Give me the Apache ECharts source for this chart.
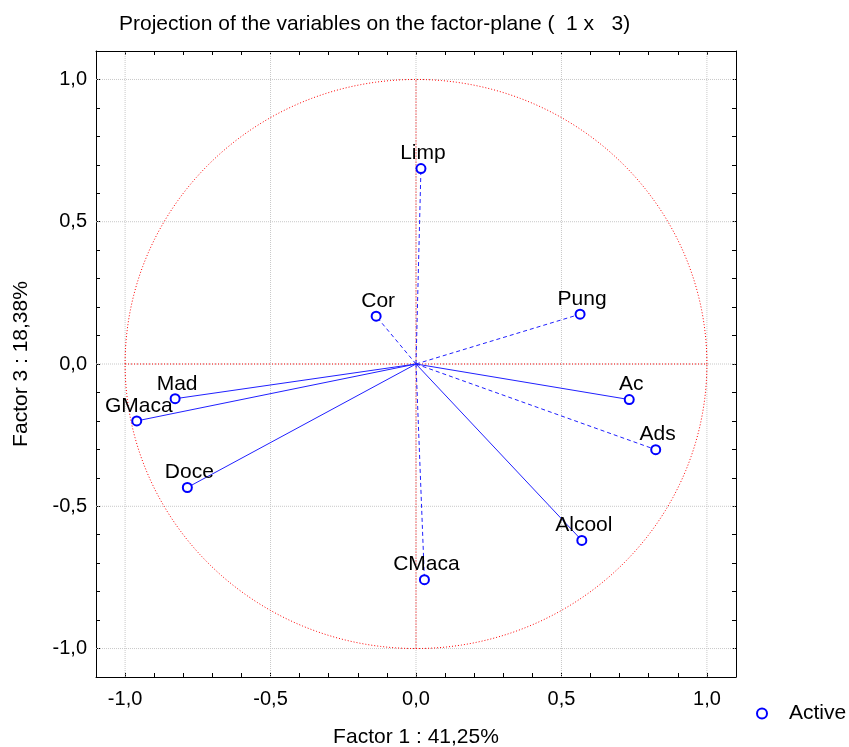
<!DOCTYPE html>
<html>
<head>
<meta charset="utf-8">
<script src="https://cdn.jsdelivr.net/npm/echarts@6/dist/echarts.min.js"></script>
<style>html,body{margin:0;padding:0;background:#fff;overflow:hidden}#c{width:849px;height:747px}</style>
</head>
<body>
<div id="c"></div>
<script>
const variables = ['Limp','Cor','Pung','Ac','Ads','Alcool','CMaca','Doce','GMaca','Mad'];
const factor1 = [0.017,-0.137,0.564,0.733,0.824,0.570,0.029,-0.786,-0.960,-0.828];
const factor3 = [0.687,0.168,0.175,-0.125,-0.301,-0.620,-0.758,-0.434,-0.200,-0.122];
const dashedVars = ['Limp','Cor','Pung','Ads','CMaca'];
const majorTicks = [-1.0,-0.5,0.0,0.5,1.0];

const FONT = 'Liberation Sans, Arial, sans-serif';
const BLUE = '#0000ff';
const RED = '#ff0000';

function fmt(v){
  const r = Math.round(v*10)/10;
  if (Math.abs(r) <= 1.0001 && Math.abs(r*2 - Math.round(r*2)) < 1e-9) return (Math.round(r*2)/2).toFixed(1).replace('-0.0','0.0').replace('.',',');
  return '';
}

const axisCommon = {
  type:'value', min:-1.1, max:1.1, interval:0.1,
  axisLine:{show:true,onZero:false,lineStyle:{color:'#000',width:1}},
  axisTick:{show:true,inside:true,length:4,lineStyle:{color:'#000'}},
  splitLine:{show:false}
};

const chart = echarts.init(document.getElementById('c'), null, {renderer:'canvas'});

const series = [];
series.push({
  type:'custom', name:'ref', coordinateSystem:'cartesian2d', silent:true, z:1,
  data:[[0,0]],
  renderItem:function(params, api){
    const children = [];
    majorTicks.forEach(function(t){
      const a = api.coord([t,-1.1]), b = api.coord([t,1.1]);
      children.push({type:'line', shape:{x1:a[0],y1:a[1],x2:b[0],y2:b[1]}, style:{stroke:'#c8c8c8',lineWidth:1,lineDash:[1,1]}});
      const c = api.coord([-1.1,t]), d = api.coord([1.1,t]);
      children.push({type:'line', shape:{x1:c[0],y1:c[1],x2:d[0],y2:d[1]}, style:{stroke:'#c8c8c8',lineWidth:1,lineDash:[1,1]}});
    });
    const h1 = api.coord([-1,0]), h2 = api.coord([1,0]);
    children.push({type:'line', shape:{x1:h1[0],y1:h1[1],x2:h2[0],y2:h2[1]}, style:{stroke:RED,lineWidth:1,lineDash:[1,2]}});
    const v1 = api.coord([0,-1]), v2 = api.coord([0,1]);
    children.push({type:'line', shape:{x1:v1[0],y1:v1[1],x2:v2[0],y2:v2[1]}, style:{stroke:RED,lineWidth:1,lineDash:[1,2]}});
    const pts = [];
    for (let k=0;k<=360;k++){ const a=k*Math.PI/180; pts.push(api.coord([Math.cos(a),Math.sin(a)])); }
    children.push({type:'polyline', shape:{points:pts}, style:{stroke:RED,fill:null,lineWidth:1,lineDash:[1,2]}});
    return {type:'group', children:children};
  }
});
variables.forEach(function(n,i){
  series.push({
    type:'line', name:'vec_'+n, z:2, symbol:'none', silent:true,
    data:[[0,0],[factor1[i],factor3[i]]],
    lineStyle:{color:'#2020ff',width:1,type: dashedVars.indexOf(n)>=0 ? [4,3] : 'solid'}
  });
});
series.push({
  type:'scatter', name:'Active', z:3,
  symbol:'circle', symbolSize:9,
  itemStyle:{color:'#ffffff',borderColor:BLUE,borderWidth:2,opacity:1},
  label:{show:true,position:'top',distance:1,offset:[2,2],formatter:function(p){return p.name;},
         color:'#000',fontFamily:FONT,fontSize:21},
  data: variables.map(function(n,i){return {name:n,value:[factor1[i],factor3[i]]};})
});

chart.setOption({
  animation:false,
  backgroundColor:'#ffffff',
  title:{text:'Projection of the variables on the factor-plane (  1 x   3)', left:114, top:9,
         textStyle:{fontFamily:FONT,fontSize:21,fontWeight:'normal',color:'#000'}},
  legend:{data:[{name:'Active',icon:'circle',itemStyle:{color:'#ffffff',borderColor:BLUE,borderWidth:2}}],
          left:751, top:698, itemWidth:10, itemHeight:10,
          textStyle:{fontFamily:FONT,fontSize:21,color:'#000',padding:[0,0,0,17]}, selectedMode:false},
  grid:{left:96, top:51, width:640, height:626, containLabel:false, outerBoundsMode:'none'},
  xAxis:[
    Object.assign({}, axisCommon, {position:'bottom', name:'Factor 1 : 41,25%', nameLocation:'middle', nameGap:50,
      nameTextStyle:{fontFamily:FONT,fontSize:21,color:'#000'},
      axisLabel:{show:true,formatter:fmt,margin:12,color:'#000',fontFamily:FONT,fontSize:20}}),
    Object.assign({}, axisCommon, {position:'top', axisLabel:{show:false}})
  ],
  yAxis:[
    Object.assign({}, axisCommon, {position:'left', name:'Factor 3 : 18,38%', nameLocation:'middle', nameGap:64, nameRotate:90,
      nameTextStyle:{fontFamily:FONT,fontSize:21,color:'#000'},
      axisLabel:{show:true,formatter:fmt,margin:9,color:'#000',fontFamily:FONT,fontSize:20}}),
    Object.assign({}, axisCommon, {position:'right', axisLabel:{show:false}})
  ],
  series:series
});
</script>
</body>
</html>
